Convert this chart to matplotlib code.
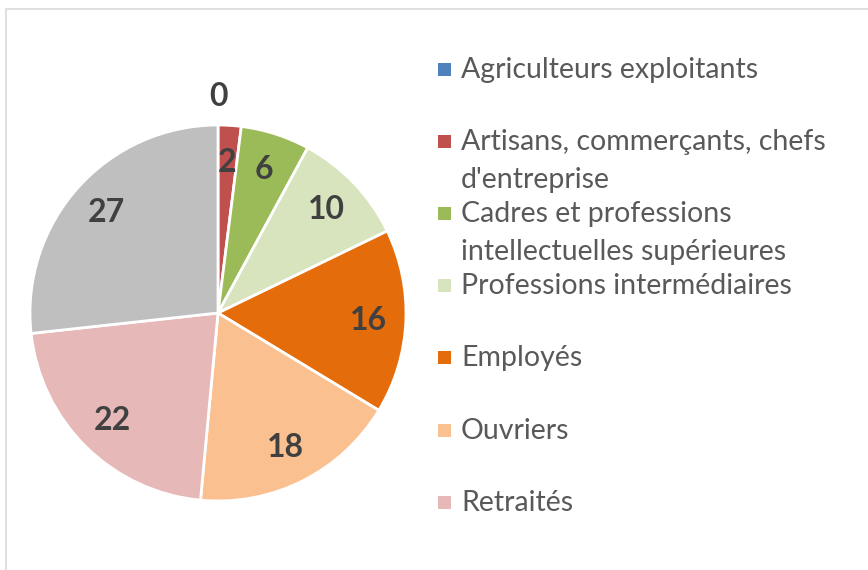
import matplotlib
import matplotlib.pyplot as plt
from matplotlib.patches import Rectangle
import numpy as np

matplotlib.use('Agg')
plt.rcParams['font.family'] = ['Lato', 'DejaVu Sans']

# données
categories = ['Agriculteurs exploitants',
              'Artisans, commerçants, chefs\nd\'entreprise',
              'Cadres et professions\nintellectuelles supérieures',
              'Professions intermédiaires',
              'Employés',
              'Ouvriers',
              'Retraités']
values = [0, 2, 6, 10, 16, 18, 22, 27]
colors = ['#4F81BD', '#C0504D', '#9BBB59', '#D7E4BD',
          '#E46C0A', '#FAC090', '#E6B9B8', '#BFBFBF']

W, H = 868, 570
fig = plt.figure(figsize=(W / 100, H / 100), dpi=100)

# cadre gris clair
fig.patches.append(Rectangle((6 / W, -0.02), 1.02, 1 - 8.5 / H + 0.02,
                             transform=fig.transFigure, fill=False,
                             edgecolor='#D9D9D9', linewidth=1.2))

# camembert
cx, cy, r = 218, 313, 188
ax = fig.add_axes([(cx - r) / W, (H - cy - r) / H, 2 * r / W, 2 * r / H])
wedges, _ = ax.pie(values, colors=colors, startangle=90, counterclock=False,
                   radius=1, wedgeprops=dict(edgecolor='white', linewidth=2))
ax.set_xlim(-1, 1)
ax.set_ylim(-1, 1)
ax.set_aspect('equal')
ax.axis('off')

for w, v in zip(wedges, values):
    ang = np.deg2rad((w.theta1 + w.theta2) / 2)
    d = 1.15 if v == 0 else 0.8
    ax.text(d * np.cos(ang), d * np.sin(ang), str(v), ha='center', va='center',
            fontsize=23, fontweight='bold', color='#404040', clip_on=False)

# légende manuelle
ys = [69, 141, 213, 285, 357, 430, 502]
for lab, col, y in zip(categories, colors[:7], ys):
    fig.patches.append(Rectangle((438 / W, 1 - (y + 7) / H), 13 / W, 13 / H,
                                 transform=fig.transFigure,
                                 facecolor=col, edgecolor='none'))
    fig.text(461 / W, 1 - (y - 12) / H, lab, ha='left', va='top',
             fontsize=20.5, color='#595959', linespacing=1.55)

plt.savefig('out.png', dpi=100)
